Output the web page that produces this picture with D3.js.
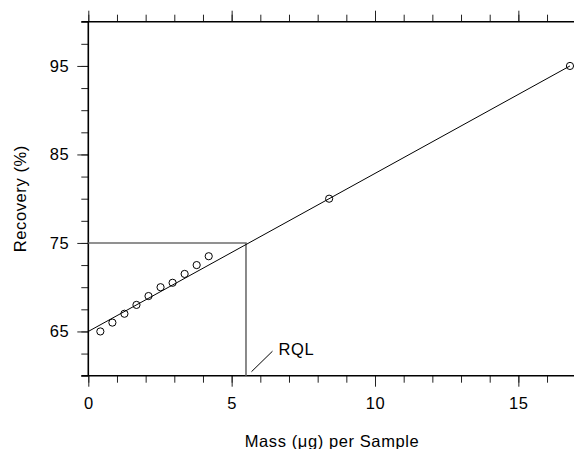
<!DOCTYPE html>
<html>
<head>
<meta charset="utf-8">
<script src="https://cdn.jsdelivr.net/npm/d3@7/dist/d3.min.js"></script>
<style>
  html, body { margin: 0; padding: 0; background: #fff; }
  svg { display: block; }
  text { font-family: "Liberation Sans", Arial, Helvetica, sans-serif; fill: #000; letter-spacing: 0.6px; }
</style>
</head>
<body>
<svg id="chart" width="574" height="449"></svg>
<script>
// Recovery measurements: sample mass (µg) and recovered percentage
const massValues = [0.42, 0.84, 1.26, 1.68, 2.10, 2.52, 2.94, 3.36, 3.78, 4.20, 8.40, 16.8];
const recoveryValues = [65.0, 66.0, 67.0, 68.0, 69.0, 70.0, 70.5, 71.5, 72.5, 73.5, 80.0, 95.0];

// Fitted line: recovery = intercept + slope * mass
const fitIntercept = 65.0;
const fitSlope = 30 / 16.8;
const fitRange = [0, 16.8];

// Reliable quantitation limit marker
const rqlMass = 5.5;
const rqlRecovery = 75;
const rqlLabel = "RQL";

// Axis ticks
const xMajorTicks = [0, 5, 10, 15];
const xMinorTicks = d3.range(0, 17, 1);
const yMajorTicks = [65, 75, 85, 95];
const yMinorTicks = d3.range(60, 100.01, 2.5);

const xTitle = "Mass (\u03bcg) per Sample";
const yTitle = "Recovery (%)";

const svg = d3.select("#chart");
const plotLeft = 88.3, plotRight = 575.7, plotTop = 21.7, plotBottom = 375.7;

const x = d3.scaleLinear().domain([0, 17]).range([plotLeft, plotRight]);
const y = d3.scaleLinear().domain([60, 100]).range([plotBottom, plotTop]);

const majorLen = 11, minorLen = 7;
const labelSize = 16.5;

// Tick marks (minor, then major) on left, bottom and top
function drawAxis(axisGen, transform) {
  const g = svg.append("g").attr("transform", transform).call(axisGen);
  g.select(".domain").remove();
  g.selectAll(".tick line").attr("stroke", "#222").attr("stroke-width", 1);
  return g;
}

drawAxis(d3.axisLeft(y).tickValues(yMinorTicks).tickSize(minorLen).tickFormat(""), `translate(${plotLeft},0)`);
const yAx = drawAxis(d3.axisLeft(y).tickValues(yMajorTicks).tickSize(majorLen).tickPadding(8).tickFormat(d3.format("d")), `translate(${plotLeft},0)`);
yAx.selectAll("text").attr("font-size", labelSize).attr("font-family", "Liberation Sans, Arial, sans-serif").attr("fill", "#000");

drawAxis(d3.axisBottom(x).tickValues(xMinorTicks).tickSize(minorLen).tickFormat(""), `translate(0,${plotBottom})`);
const xAx = drawAxis(d3.axisBottom(x).tickValues(xMajorTicks).tickSize(majorLen).tickPadding(11).tickFormat(d3.format("d")), `translate(0,${plotBottom})`);
xAx.selectAll("text").attr("font-size", labelSize).attr("font-family", "Liberation Sans, Arial, sans-serif").attr("fill", "#000");

drawAxis(d3.axisTop(x).tickValues(xMinorTicks).tickSize(minorLen).tickFormat(""), `translate(0,${plotTop})`);
drawAxis(d3.axisTop(x).tickValues(xMajorTicks).tickSize(majorLen).tickFormat(""), `translate(0,${plotTop})`);

// Frame lines: left, top, bottom
svg.append("line").attr("x1", plotLeft).attr("x2", plotLeft).attr("y1", plotTop).attr("y2", plotBottom)
  .attr("stroke", "#000").attr("stroke-width", 1.6);
svg.append("line").attr("x1", plotLeft - minorLen).attr("x2", 574).attr("y1", plotTop).attr("y2", plotTop)
  .attr("stroke", "#000").attr("stroke-width", 1.6);
svg.append("line").attr("x1", plotLeft - minorLen).attr("x2", 574).attr("y1", plotBottom).attr("y2", plotBottom)
  .attr("stroke", "#000").attr("stroke-width", 1.6);

// RQL guide lines
svg.append("path")
  .attr("d", d3.line()([[x(0), y(rqlRecovery)], [x(rqlMass), y(rqlRecovery)], [x(rqlMass), y(60)]]))
  .attr("fill", "none").attr("stroke", "#6e6e6e").attr("stroke-width", 1.6);

// Fitted line
svg.append("line")
  .attr("x1", x(fitRange[0])).attr("y1", y(fitIntercept + fitSlope * fitRange[0]))
  .attr("x2", x(fitRange[1])).attr("y2", y(fitIntercept + fitSlope * fitRange[1]))
  .attr("stroke", "#000").attr("stroke-width", 1);

// Data points
svg.append("g").selectAll("circle")
  .data(massValues.map((m, i) => [m, recoveryValues[i]]))
  .join("circle")
  .attr("cx", d => x(d[0])).attr("cy", d => y(d[1])).attr("r", 3.6)
  .attr("fill", "none").attr("stroke", "#000").attr("stroke-width", 1);

// RQL label with leader
svg.append("line")
  .attr("x1", x(rqlMass) + 5.5).attr("y1", y(60) - 4)
  .attr("x2", x(rqlMass) + 26.5).attr("y2", y(60) - 24.5)
  .attr("stroke", "#000").attr("stroke-width", 1);
svg.append("text")
  .attr("x", x(rqlMass) + 32.5).attr("y", y(60) - 20.5)
  .attr("font-size", labelSize).text(rqlLabel);

// Axis titles
svg.append("text")
  .attr("x", (plotLeft + plotRight) / 2).attr("y", 446.5)
  .attr("text-anchor", "middle").attr("font-size", labelSize).text(xTitle);
svg.append("text")
  .attr("transform", `translate(25.5,${(plotTop + plotBottom) / 2}) rotate(-90)`)
  .attr("text-anchor", "middle").attr("font-size", labelSize).text(yTitle);
</script>
</body>
</html>
